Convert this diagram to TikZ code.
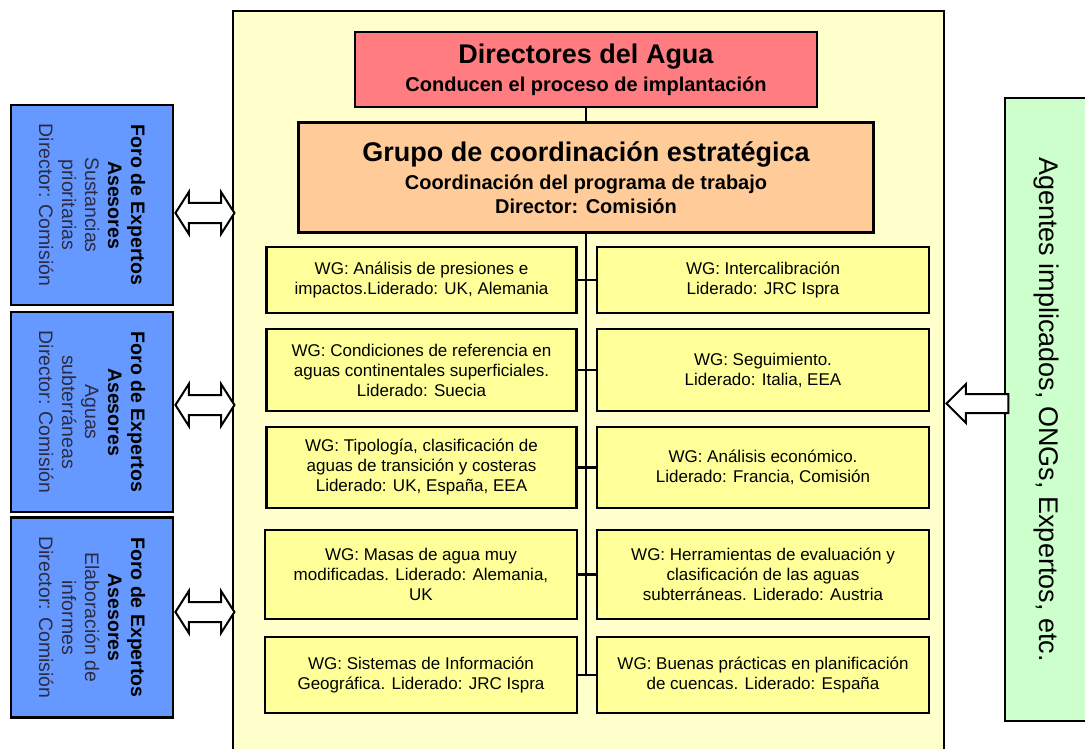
\documentclass[tikz,border=0pt]{standalone}
\usepackage{fontspec}
\setmainfont{Liberation Sans}
\usetikzlibrary{positioning,shapes.arrows}
\definecolor{marcocol}{HTML}{FFFFCC}
\definecolor{wgcol}{HTML}{FFFF99}
\definecolor{dircol}{HTML}{FF7C80}
\definecolor{gcecol}{HTML}{FFCC99}
\definecolor{forocol}{HTML}{6699FF}
\definecolor{agentcol}{HTML}{CCFFCC}
\definecolor{forotxt}{HTML}{2B2B45}

\begin{document}
\begin{tikzpicture}[x=1pt, y=-1pt,
  caja/.style={draw, line width=2.5pt, align=center, inner sep=0pt},
  jefe/.style={caja, font=\fontsize{20}{24}\selectfont\bfseries},
  wg/.style={caja, fill=wgcol, font=\fontsize{17}{20}\selectfont},
  foro/.style={caja, fill=forocol, rotate=-90, minimum width=200pt, minimum height=162pt, font=\fontsize{19.5}{23}\selectfont},
  flecha/.style={draw, line width=2pt, fill=white, inner sep=9pt, double arrow, double arrow head extend=11pt, double arrow tip angle=115, minimum height=59pt},
  linea/.style={line width=2.5pt}]
\useasboundingbox (0,0) rectangle (1085,749);
\node[caja, line width=2pt, fill=marcocol, minimum width=711pt, minimum height=760pt, anchor=north west] (marco) at (232,10) {};
\node[jefe, fill=dircol, minimum width=462pt, minimum height=75pt] (dir) at (586,69.5) {{\fontsize{27}{30}\selectfont Directores del Agua}\\[4pt]Conducen el proceso de implantación};
\node[jefe, fill=gcecol, minimum width=575pt, minimum height=110pt, below=13pt of dir] (gce) {{\fontsize{27}{30}\selectfont Grupo de coordinación estratégica}\\[4pt]Coordinación del programa de trabajo\\Director: Comisión};
\draw[linea] (dir) -- (gce);

\node[wg, minimum width=310pt, minimum height=66pt] (wgL1) at (421.5,280) {WG: Análisis de presiones e\\impactos.Liderado: UK, Alemania};
\node[wg, minimum width=332pt, minimum height=66pt] (wgR1) at (763,280) {WG: Intercalibración\\Liderado: JRC Ispra};
\node[wg, minimum width=310pt, minimum height=82pt] (wgL2) at (421.5,370) {WG: Condiciones de referencia en\\aguas continentales superficiales.\\Liderado: Suecia};
\node[wg, minimum width=332pt, minimum height=82pt] (wgR2) at (763,370) {WG: Seguimiento.\\Liderado: Italia, EEA};
\node[wg, minimum width=310pt, minimum height=81pt] (wgL3) at (421.5,467.5) {WG: Tipología, clasificación de\\aguas de transición y costeras\\Liderado: UK, España, EEA};
\node[wg, minimum width=332pt, minimum height=81pt] (wgR3) at (763,467.5) {WG: Análisis económico.\\Liderado: Francia, Comisión};
\node[wg, minimum width=312pt, minimum height=89pt] (wgL4) at (421,574.5) {WG: Masas de agua muy\\modificadas. Liderado: Alemania,\\UK};
\node[wg, minimum width=332pt, minimum height=89pt] (wgR4) at (763,574.5) {WG: Herramientas de evaluación y\\clasificación de las aguas\\subterráneas. Liderado: Austria};
\node[wg, minimum width=312pt, minimum height=76pt] (wgL5) at (421,675) {WG: Sistemas de Información\\Geográfica. Liderado: JRC Ispra};
\node[wg, minimum width=332pt, minimum height=76pt] (wgR5) at (763,675) {WG: Buenas prácticas en planificación\\de cuencas. Liderado: España};
\draw[linea] (gce.south) -- (gce.south |- wgL5.east);
\foreach \n in {1,...,5}
  \draw[linea] (wgL\n.east) -- (wgL\n.east -| wgR\n.west);

\node[foro] (foro1) at (92,205) {\textbf{Foro de Expertos}\\\textbf{Asesores}\\\color{forotxt}Sustancias\\\color{forotxt}prioritarias\\\color{forotxt}Director: Comisión};
\node[foro] (foro2) at (92,412) {\textbf{Foro de Expertos}\\\textbf{Asesores}\\\color{forotxt}Aguas\\\color{forotxt}subterráneas\\\color{forotxt}Director: Comisión};
\node[foro] (foro3) at (92,617.5) {\textbf{Foro de Expertos}\\\textbf{Asesores}\\\color{forotxt}Elaboración de\\\color{forotxt}informes\\\color{forotxt}Director: Comisión};
\node[flecha, anchor=west, yshift=-8pt] (fl1) at (foro1.north) {};
\node[flecha, anchor=west, yshift=7pt] (fl2) at (foro2.north) {};
\node[flecha, anchor=west, yshift=5.5pt] (fl3) at (foro3.north) {};

\node[caja, fill=agentcol, rotate=-90, minimum width=623pt, minimum height=83pt, font=\fontsize{27}{30}\selectfont] (agentes) at (1046.5,409.5) {Agentes implicados, ONGs, Expertos, etc.};
\node[draw, line width=2pt, fill=white, single arrow, shape border rotate=180, inner sep=8.5pt, single arrow head extend=10pt, minimum height=62pt, anchor=tip, yshift=6pt] (fl4) at (marco.east |- agentes.north) {};
\end{tikzpicture}
\end{document}
